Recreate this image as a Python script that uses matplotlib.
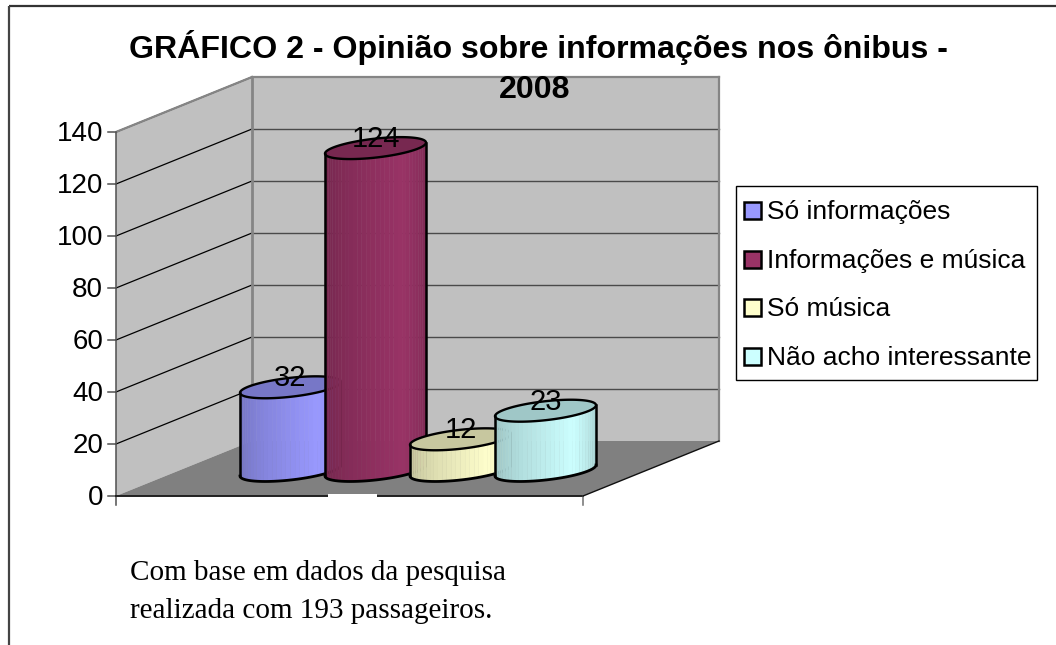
import numpy as np
import matplotlib
matplotlib.use("Agg")
import matplotlib.pyplot as plt
from matplotlib.patches import Polygon, Rectangle

TITLE_LINES = ["GRÁFICO 2 - Opinião sobre informações nos ônibus -", "2008"]
NOTE = "Com base em dados da pesquisa\nrealizada com 193 passageiros."
categories = ["Só informações", "Informações e música", "Só música", "Não acho interessante"]
values = [32, 124, 12, 23]
colors = ["#9999FF", "#993366", "#FFFFCC", "#CCFFFF"]
y_ticks = [0, 20, 40, 60, 80, 100, 120, 140]

W, H = 1056, 645
fig = plt.figure(figsize=(W / 100, H / 100), dpi=100)
ax = fig.add_axes([0, 0, 1, 1])
ax.set_xlim(0, W)
ax.set_ylim(H, 0)
ax.axis("off")

# 3D projection of the value scale
X0, X1, Y0 = 116, 583, 496
DX, DY = 136, -55
PX_PER_UNIT = 2.6
YMAX = y_ticks[-1]
def vy(v):
    return Y0 - v * PX_PER_UNIT

# partial outer frame: top and left only
ax.plot([9, W], [6, 6], color="#333333", lw=1.6, zorder=0, solid_capstyle="butt")
ax.plot([9, 9], [6, H], color="#444444", lw=1.6, zorder=0, solid_capstyle="butt")

# walls and floor
top_f = vy(YMAX)
ax.add_patch(Polygon([(X0 + DX, top_f + DY), (X1 + DX, top_f + DY), (X1 + DX, Y0 + DY), (X0 + DX, Y0 + DY)],
                     fc="#C0C0C0", ec="none", zorder=1))
ax.add_patch(Polygon([(X0, top_f), (X0 + DX, top_f + DY), (X0 + DX, Y0 + DY), (X0, Y0)],
                     fc="#C0C0C0", ec="none", zorder=1))
ax.add_patch(Polygon([(X0, Y0), (X1, Y0), (X1 + DX, Y0 + DY), (X0 + DX, Y0 + DY)],
                     fc="#808080", ec="none", zorder=1))
GREY = "#858585"
for t in y_ticks:
    y = vy(t)
    if t:
        ax.plot([X0, X0 + DX], [y, y + DY], color="#000000", lw=0.9, zorder=2)
    if 0 < t < YMAX:
        ax.plot([X0 + DX, X1 + DX], [y + DY, y + DY], color="#4a4a4a", lw=1.0, zorder=2)
    ax.plot([X0 - 8, X0], [y, y], color="#505050", lw=1.1, zorder=2)
    ax.text(X0 - 13, y + 2, str(t), ha="right", va="center", fontsize=20, family="Liberation Sans", zorder=6)
ax.plot([X0, X0 + DX], [top_f, top_f + DY], color=GREY, lw=1.6, zorder=2)
ax.plot([X0 + DX, X1 + DX], [top_f + DY, top_f + DY], color=GREY, lw=1.6, zorder=2)
ax.plot([X0 + DX, X0 + DX], [top_f + DY, Y0 + DY], color=GREY, lw=2.0, zorder=2)
ax.plot([X1 + DX, X1 + DX], [top_f + DY, Y0 + DY], color=GREY, lw=1.6, zorder=2)
ax.plot([X0, X0], [top_f, Y0 + 9], color="#505050", lw=1.1, zorder=2)
ax.plot([X0, X1], [Y0, Y0], color="#202020", lw=1.4, zorder=2)
ax.plot([X1, X1], [Y0, Y0 + 9], color="#707070", lw=1.1, zorder=2)
ax.plot([X1, X1 + DX], [Y0, Y0 + DY], color="#101010", lw=1.0, zorder=2)
ax.add_patch(Rectangle((328, Y0 - 2), 49, 4, fc="white", ec="none", zorder=3))

# cylinders
BAR_X = 240
STEP = 85
BAR_W = 101
BASE_Y = 470.5      # centre of base ellipse
SHEAR = 5.5         # tilt of ellipse
MINOR = 9.5

def mix(c, k):
    rgb = np.array(matplotlib.colors.to_rgb(c))
    return tuple(np.clip(rgb * k, 0, 1))

def shade(u):
    # dark at the left, bright at about two thirds, darker again at right
    if u < 0.68:
        return 0.74 + 0.26 * (u / 0.68)
    return 1.0 - 0.2 * ((u - 0.68) / 0.32)

for i, (v, c) in enumerate(zip(values, colors)):
    a = BAR_W / 2
    cx = BAR_X + i * STEP + a
    top = BASE_Y - v * PX_PER_UNIT
    z = 10 + i
    n = 34
    us = np.linspace(0, 1, n + 1)
    ts = np.pi - us * np.pi  # t=pi left, t=0 right
    low = lambda cy, t: cy - SHEAR * np.cos(t) + MINOR * np.sin(t)
    for j in range(n):
        tt = np.linspace(ts[j], ts[j + 1], 4)
        xx = cx + a * np.cos(tt)
        poly = list(zip(xx, low(BASE_Y, tt))) + list(zip(xx[::-1], low(top, tt[::-1])))
        col = mix(c, shade((j + 0.5) / n))
        ax.add_patch(Polygon(poly, fc=col, ec=col, lw=0.3, zorder=z))
    t = np.linspace(0, 2 * np.pi, 160)
    ax.add_patch(Polygon(list(zip(cx + a * np.cos(t), low(top, t))), fc=mix(c, 0.78),
                         ec="black", lw=1.7, zorder=z + 0.2))
    tb = np.linspace(np.pi, 0, 80)
    ax.plot(cx + a * np.cos(tb), low(BASE_Y, tb), color="black", lw=2.0, zorder=z + 0.2)
    ax.plot([cx - a, cx - a], [low(top, np.pi), low(BASE_Y, np.pi)], color="black", lw=1.8, zorder=z + 0.2)
    ax.plot([cx + a, cx + a], [low(top, 0.0), low(BASE_Y, 0.0)], color="black", lw=1.8, zorder=z + 0.2)
    ax.text(cx, top - 9, str(v), ha="center", va="center", fontsize=21,
            family="Liberation Sans", zorder=20)

# title
TITLE_Y = [58, 98]
TITLE_X = [538.5, 535]
for s, x, y in zip(TITLE_LINES, TITLE_X, TITLE_Y):
    ax.text(x, y, s, ha="center", va="baseline", fontsize=23.1, fontweight="bold",
            family="Liberation Sans", zorder=20)

# legend
ax.add_patch(Rectangle((735.5, 186), 301, 194, fc="white", ec="black", lw=1.0, zorder=5))
LEG_Y = [210, 259, 307, 356]
for name, c, y in zip(categories, colors, LEG_Y):
    ax.add_patch(Rectangle((744, y - 8), 16.5, 16.5, fc=c, ec="black", lw=1.8, zorder=6))
    ax.text(767, y + 2, name, ha="left", va="center", fontsize=19, family="Liberation Sans", zorder=6)

ax.text(130, 592, NOTE, ha="left", va="center", fontsize=21, family="Liberation Serif",
        linespacing=1.65, zorder=6)

fig.savefig("out.png", dpi=100)
